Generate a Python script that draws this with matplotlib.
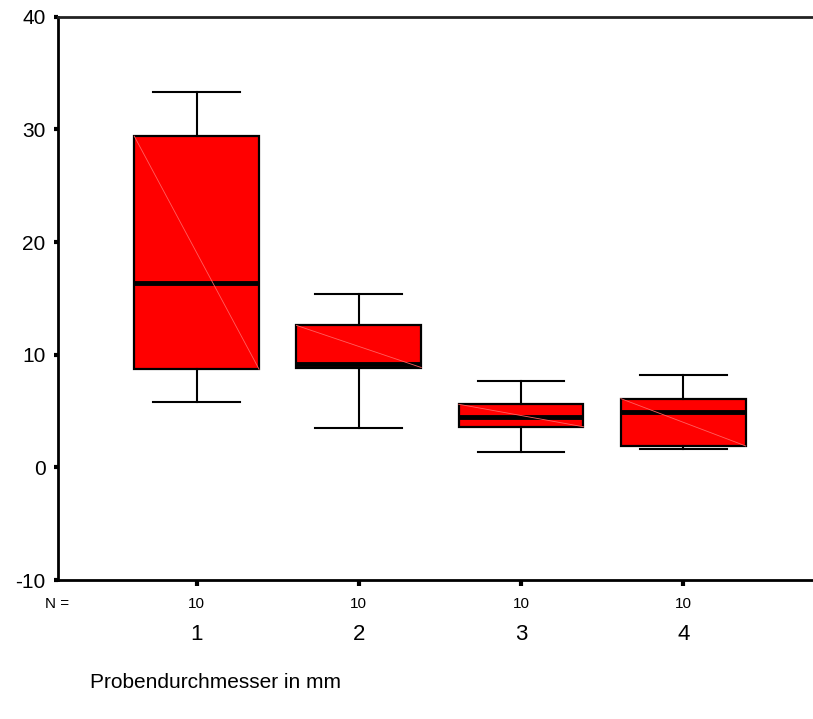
import matplotlib
matplotlib.use("Agg")
import matplotlib.pyplot as plt
from matplotlib.transforms import blended_transform_factory

plt.rcParams['font.family'] = ['Liberation Sans', 'DejaVu Sans']

categories = ["1", "2", "3", "4"]
n_counts = [10, 10, 10, 10]
whisker_low = [5.8, 3.45, 1.34, 1.63]
q1 = [8.7, 8.86, 3.6, 1.9]
median = [16.4, 9.2, 4.45, 4.9]
q3 = [29.4, 12.6, 5.6, 6.1]
whisker_high = [33.3, 15.4, 7.65, 8.24]

W, H = 813, 719
fig = plt.figure(figsize=(W / 100, H / 100), dpi=100)
ax = fig.add_axes([58 / W, 1 - 580 / H, 1 - 58 / W, (580 - 16.7) / H])

positions = list(range(1, len(categories) + 1))
stats = []
for i, c in enumerate(categories):
    stats.append(dict(label=c, whislo=whisker_low[i], q1=q1[i], med=median[i],
                      q3=q3[i], whishi=whisker_high[i], fliers=[]))

box_w = 0.77
ax.bxp(stats, positions=positions, widths=box_w, patch_artist=True,
       showfliers=False, showcaps=True,
       boxprops=dict(facecolor='#ff0000', edgecolor='black', linewidth=1.6),
       medianprops=dict(color='black', linewidth=3.5),
       whiskerprops=dict(color='black', linewidth=1.5),
       capprops=dict(color='black', linewidth=1.5),
       capwidths=0.535, zorder=3)

# faint diagonal rendering artefact inside boxes
for p, lo, hi in zip(positions, q1, q3):
    ax.plot([p - box_w / 2, p + box_w / 2], [hi, lo], color='#ff6060',
            linewidth=0.6, zorder=3.5)

ax.set_xlim(0.145, 4.8)
ax.set_ylim(-10, 40)
ax.set_yticks([-10, 0, 10, 20, 30, 40])
ax.set_yticklabels(["-10", "0", "10", "20", "30", "40"])
ax.tick_params(axis='y', direction='out', length=3, width=3, labelsize=15, pad=6)
ax.set_xticks(positions)
ax.set_xticklabels([])
ax.tick_params(axis='x', direction='out', length=4, width=3)

for s in ['left', 'bottom', 'top']:
    ax.spines[s].set_linewidth(2)
ax.spines['right'].set_visible(False)
ax.spines['top'].set_color('#222222')

tr = blended_transform_factory(ax.transData, fig.transFigure)
for p, n, c in zip(positions, n_counts, categories):
    ax.text(p, 1 - 604 / H, str(n), transform=tr, ha='center', va='center', fontsize=11)
    ax.text(p, 1 - 635 / H, c, transform=tr, ha='center', va='center', fontsize=16)
fig.text(57 / W, 1 - 604 / H, "N =", ha='center', va='center', fontsize=11)
fig.text(90 / W, 1 - 683 / H, "Probendurchmesser in mm", ha='left', va='center', fontsize=15)

fig.savefig("out.png", dpi=100)
